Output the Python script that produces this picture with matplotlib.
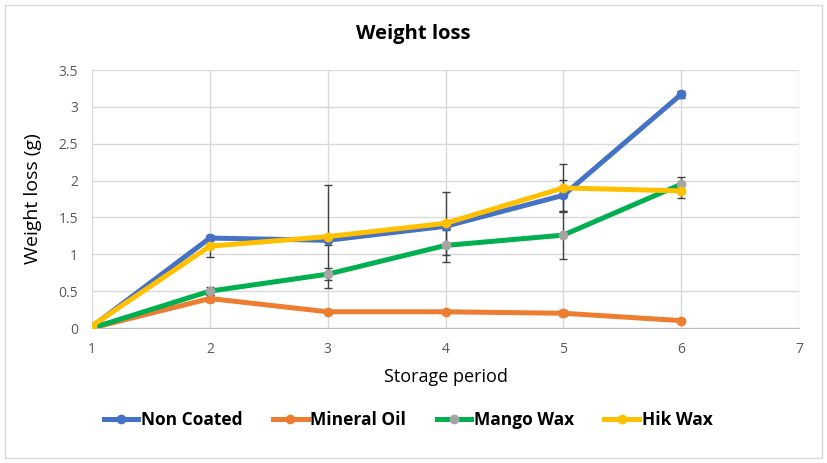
import numpy as np
import matplotlib
matplotlib.use("Agg")
import matplotlib.pyplot as plt
from matplotlib.patches import Rectangle

# storage period (x) and weight loss (g) per coating
period = [1, 2, 3, 4, 5, 6]
non_coated = [0.02, 1.22, 1.19, 1.38, 1.80, 3.17]
mineral_oil = [0.0, 0.40, 0.22, 0.22, 0.20, 0.10]
mango_wax = [0.0, 0.50, 0.73, 1.12, 1.26, 1.95]
hik_wax = [0.03, 1.11, 1.24, 1.42, 1.90, 1.86]

# error bar half-widths
non_coated_err = [0, 0.03, 0.06, 0.05, 0.21, 0.05]
mineral_oil_err = [0, 0.05, 0.02, 0.02, 0.04, 0.02]
mango_wax_err = [0, 0.05, 0.08, 0.22, 0.33, 0.10]
hik_wax_err = [0, 0.15, 0.70, 0.43, 0.32, 0.10]

names = ["Non Coated", "Mineral Oil", "Mango Wax", "Hik Wax"]
line_colors = ["#4472C4", "#ED7D31", "#00B050", "#FFC000"]
marker_colors = ["#4472C4", "#ED7D31", "#A5A5A5", "#FFC000"]

plt.rcParams['font.family'] = ['Open Sans', 'DejaVu Sans']

fig = plt.figure(figsize=(8.27, 4.63), dpi=100)
ax = fig.add_axes([92/827, 1-328/463, 707/827, 258/463])

# outer chart border
fig.patches.append(Rectangle((5/827, 5/463), 817/827, 453/463, transform=fig.transFigure,
                             fill=False, edgecolor="#D9D9D9", linewidth=1))

series = [non_coated, mineral_oil, mango_wax, hik_wax]
errs = [non_coated_err, mineral_oil_err, mango_wax_err, hik_wax_err]
for i in range(4):
    ax.errorbar(period, series[i], yerr=errs[i], fmt='none', ecolor="#404040",
                elinewidth=1, capsize=3, capthick=1, zorder=2)
for i in range(4):
    ax.plot(period, series[i], color=line_colors[i], lw=3.6, marker='o', markersize=6,
            markerfacecolor=marker_colors[i], markeredgecolor=marker_colors[i],
            label=names[i], zorder=3 + i)

ax.set_xlim(1, 7)
ax.set_ylim(0, 3.5)
ax.set_xticks(range(1, 8))
ax.set_yticks(np.arange(0, 3.51, 0.5))
ax.set_yticklabels(["0", "0.5", "1", "1.5", "2", "2.5", "3", "3.5"])
ax.grid(True, color="#D9D9D9", lw=1)
ax.set_axisbelow(True)
for s in ["top", "right", "left"]:
    ax.spines[s].set_visible(False)
ax.spines["bottom"].set_color("#BFBFBF")
ax.tick_params(length=0, labelsize=10, colors="#595959", pad=10)

fig.text(413/827, 1-34/463, "Weight loss", fontsize=14.5, fontweight='bold',
         ha='center', va='center')
ax.set_xlabel("Storage period", fontsize=13)
ax.xaxis.set_label_coords(0.5, -(377-328)/258)
ax.xaxis.label.set_va('center')
ax.set_ylabel("Weight loss (g)", fontsize=14)
ax.yaxis.set_label_coords((33-92)/707, 0.5)
ax.yaxis.label.set_va('center')

leg = fig.legend(loc='center', bbox_to_anchor=(408/827, 1-420/463), ncol=4, frameon=False,
                 prop={'size': 12.5, 'weight': 'bold'}, handlelength=2.0, handletextpad=0.15,
                 columnspacing=1.75)

fig.savefig("out.png", dpi=100)
